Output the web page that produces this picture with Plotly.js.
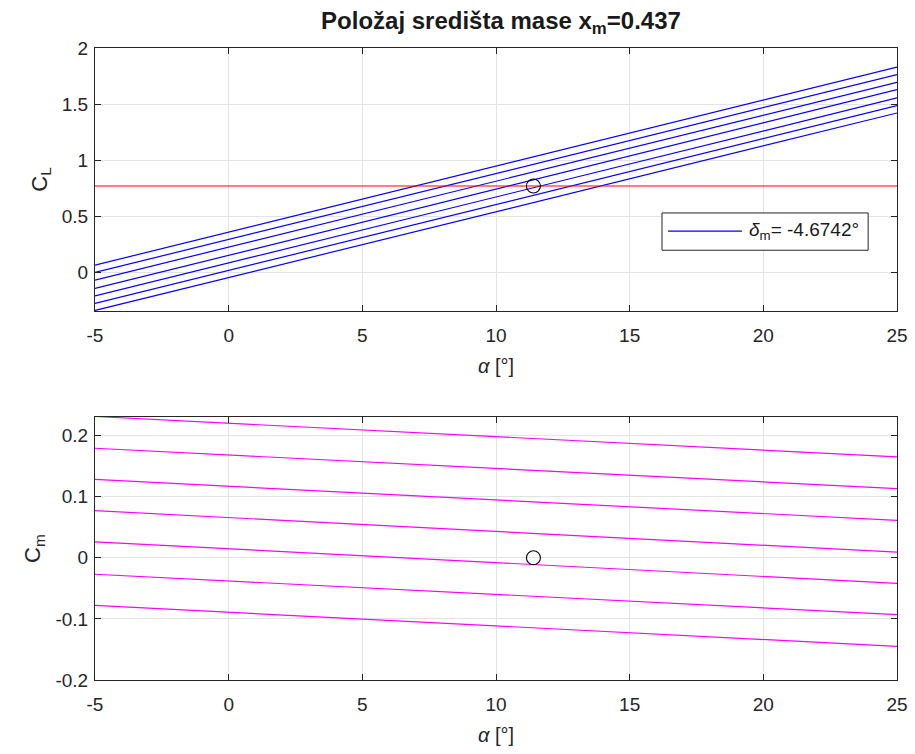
<!DOCTYPE html>
<html>
<head>
<meta charset="utf-8">
<script src="https://cdn.plot.ly/plotly-3.0.1.min.js"></script>
<style>html,body{margin:0;padding:0;background:#fff;}#chart{width:915px;height:754px;}</style>
</head>
<body>
<div id="chart"></div>
<script>
// alpha endpoints of the (straight) lines
const alphaEnds = [-5, 25];
// C_L of each blue line at alpha = -5 and alpha = 25
const CL_at_start = [0.065, 0.000, -0.068, -0.143, -0.210, -0.276, -0.339];
const CL_at_end   = [1.830, 1.763, 1.694, 1.629, 1.555, 1.486, 1.421];
// C_m of each magenta line at alpha = -5 and alpha = 25
const Cm_at_start = [0.231, 0.179, 0.128, 0.077, 0.026, -0.027, -0.078];
const Cm_at_end   = [0.165, 0.113, 0.061, 0.009, -0.042, -0.093, -0.145];
// trim lift coefficient (red line)
const CL_trim = [0.770, 0.770];
// trim point
const trimAlpha = [11.4];
const trimCL = [0.770];
const trimCm = [0.0];
// tick labels
const xTicks = [-5, 0, 5, 10, 15, 20, 25];
const xTickText = ['-5', '0', '5', '10', '15', '20', '25'];
const clTicks = [0, 0.5, 1, 1.5, 2];
const clTickText = ['0', '0.5', '1', '1.5', '2'];
const cmTicks = [-0.2, -0.1, 0, 0.1, 0.2];
const cmTickText = ['-0.2', '-0.1', '0', '0.1', '0.2'];
const legendLabel = '<i>δ</i><sub>m</sub>= -4.6742°';
const titleText = '<b>Položaj središta mase x<sub>m</sub>=0.437</b>';

const traces = [];
CL_at_start.forEach((v, i) => {
  traces.push({x: alphaEnds, y: [v, CL_at_end[i]], xaxis: 'x', yaxis: 'y', mode: 'lines',
    line: {color: '#0000ff', width: 1.2}, name: legendLabel, showlegend: false, hoverinfo: 'skip'});
});
traces.push({x: alphaEnds, y: CL_trim, xaxis: 'x', yaxis: 'y', mode: 'lines',
  line: {color: '#ff0000', width: 1.2}, showlegend: false});
traces.push({x: trimAlpha, y: trimCL, xaxis: 'x', yaxis: 'y', mode: 'markers',
  marker: {symbol: 'circle-open', size: 14, color: '#000', line: {width: 1.1}}, showlegend: false});
Cm_at_start.forEach((v, i) => {
  traces.push({x: alphaEnds, y: [v, Cm_at_end[i]], xaxis: 'x2', yaxis: 'y2', mode: 'lines',
    line: {color: '#ff00ff', width: 1.2}, showlegend: false, hoverinfo: 'skip'});
});
traces.push({x: trimAlpha, y: trimCm, xaxis: 'x2', yaxis: 'y2', mode: 'markers',
  marker: {symbol: 'circle-open', size: 14, color: '#000', line: {width: 1.1}}, showlegend: false});

const fontFam = 'Liberation Sans, Arial, sans-serif';
const axCommon = {
  showline: true, linecolor: '#262626', linewidth: 1, mirror: 'allticks',
  ticks: 'inside', ticklen: 6, tickcolor: '#262626', tickwidth: 1,
  showgrid: true, gridcolor: '#e3e3e3', gridwidth: 1, zeroline: false,
  tickfont: {family: fontFam, size: 19, color: '#262626'}
};
const xCommon = Object.assign({}, axCommon, {range: [-5, 25], tickvals: xTicks, ticktext: xTickText,
  ticklabelstandoff: 7,
  title: {text: '<i>α</i> [°]', font: {family: fontFam, size: 20, color: '#262626'}, standoff: 14}});

// manual legend box (paper coordinates of the upper axes)
const legBox = {x0: 0.707, x1: 0.964, y0: 0.680, y1: 0.739};
const legLine = {x0: 0.7145, x1: 0.8067, y: 0.7104};

const layout = {
  width: 915, height: 754,
  margin: {l: 95, r: 18, t: 48, b: 74},
  paper_bgcolor: '#fff', plot_bgcolor: '#fff',
  title: {text: titleText, font: {family: fontFam, size: 24, color: '#1a1a1a'}, x: 0.5475, xanchor: 'center', y: 0.973, yanchor: 'middle'},
  xaxis: Object.assign({}, xCommon, {anchor: 'y', domain: [0, 1]}),
  yaxis: Object.assign({}, axCommon, {anchor: 'x', domain: [0.584, 1], range: [-0.343, 2],
    tickvals: clTicks, ticktext: clTickText, ticklabelstandoff: 2,
    title: {text: 'C<sub>L</sub>', font: {family: fontFam, size: 22, color: '#262626'}, standoff: 8}}),
  xaxis2: Object.assign({}, xCommon, {anchor: 'y2', domain: [0, 1]}),
  yaxis2: Object.assign({}, axCommon, {anchor: 'x2', domain: [0, 0.416], range: [-0.2, 0.23],
    tickvals: cmTicks, ticktext: cmTickText, ticklabelstandoff: 2,
    title: {text: 'C<sub>m</sub>', font: {family: fontFam, size: 22, color: '#262626'}, standoff: 8}}),
  showlegend: false,
  shapes: [
    {type: 'rect', xref: 'paper', yref: 'paper', x0: legBox.x0, x1: legBox.x1, y0: legBox.y0, y1: legBox.y1,
      line: {color: '#262626', width: 1}, fillcolor: '#ffffff', layer: 'above'},
    {type: 'line', xref: 'paper', yref: 'paper', x0: legLine.x0, x1: legLine.x1, y0: legLine.y, y1: legLine.y,
      line: {color: '#0000ff', width: 1.2}, layer: 'above'}
  ],
  annotations: [
    {xref: 'paper', yref: 'paper', x: 0.8130, y: legLine.y, xanchor: 'left', yanchor: 'middle',
      text: legendLabel, showarrow: false, font: {family: fontFam, size: 19, color: '#1a1a1a'}}
  ]
};

Plotly.newPlot('chart', traces, layout, {displayModeBar: false, staticPlot: true});
</script>
</body>
</html>
